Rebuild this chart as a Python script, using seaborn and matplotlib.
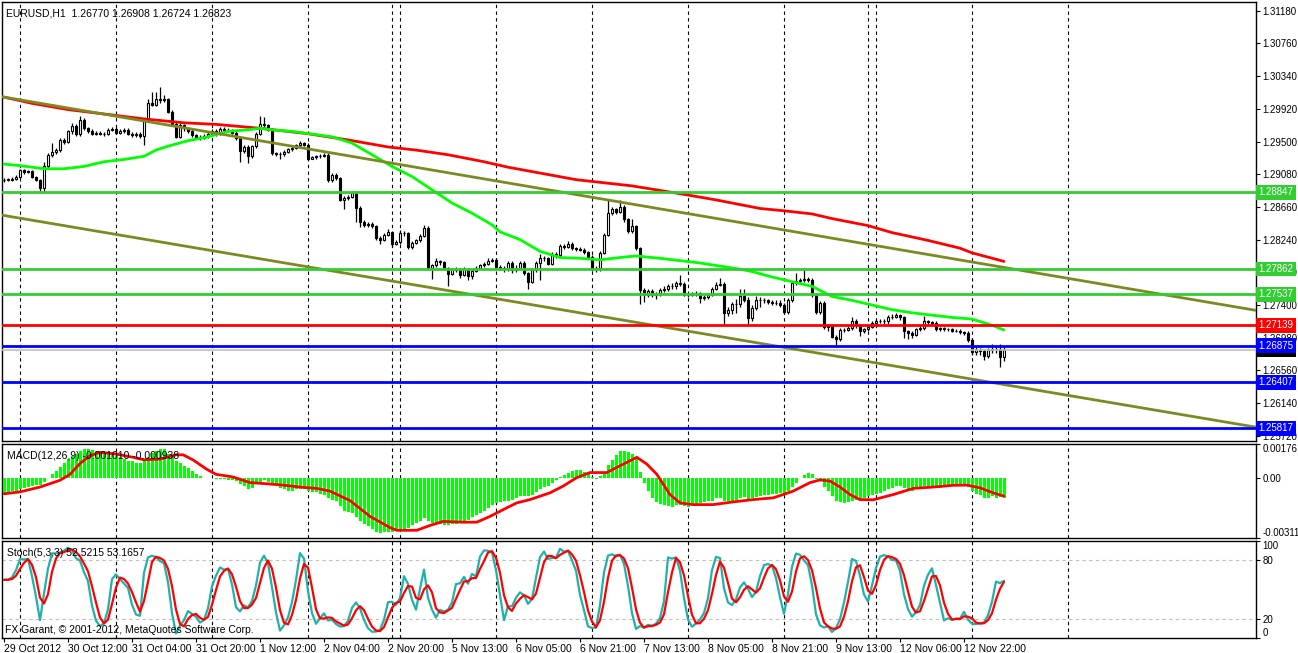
import numpy as np
import pandas as pd
import matplotlib
matplotlib.use("Agg")
import matplotlib.pyplot as plt
import matplotlib.transforms as mtrans
import seaborn as sns

# EURUSD H1, one value per bar (bar 0 = 29 Oct 20:00)
close_px = [
    1.2901, 1.2901, 1.2902, 1.2905, 1.2913, 1.2911, 1.2912, 1.2905, 1.2901, 1.2890,
    1.2918, 1.2933, 1.2937, 1.2939, 1.2952, 1.2950, 1.2963, 1.2970, 1.2960, 1.2978,
    1.2967, 1.2964, 1.2960, 1.2961, 1.2960, 1.2960, 1.2965, 1.2966, 1.2961, 1.2964,
    1.2965, 1.2960, 1.2958, 1.2960, 1.2957, 1.2978, 1.2999, 1.2997, 1.3004, 1.3003,
    1.3004, 1.2988, 1.2973, 1.2956, 1.2971, 1.2967, 1.2964, 1.2958, 1.2956, 1.2955,
    1.2957, 1.2960, 1.2963, 1.2960, 1.2966, 1.2965, 1.2964, 1.2961, 1.2954, 1.2938,
    1.2943, 1.2931, 1.2944, 1.2960, 1.2973, 1.2971, 1.2965, 1.2935, 1.2934, 1.2934,
    1.2937, 1.2940, 1.2942, 1.2945, 1.2948, 1.2946, 1.2928, 1.2930, 1.2931, 1.2932,
    1.2933, 1.2900, 1.2907, 1.2903, 1.2875, 1.2877, 1.2879, 1.2884, 1.2865, 1.2847,
    1.2843, 1.2844, 1.2841, 1.2826, 1.2824, 1.2830, 1.2834, 1.2819, 1.2821, 1.2833,
    1.2832, 1.2814, 1.2820, 1.2823, 1.2829, 1.2839, 1.2788, 1.2791, 1.2796, 1.2795,
    1.2787, 1.2780, 1.2786, 1.2785, 1.2779, 1.2786, 1.2777, 1.2784, 1.2788, 1.2791,
    1.2793, 1.2797, 1.2798, 1.2789, 1.2788, 1.2786, 1.2794, 1.2785, 1.2788, 1.2794,
    1.2781, 1.2770, 1.2785, 1.2794, 1.2801, 1.2800, 1.2793, 1.2806, 1.2804, 1.2816,
    1.2815, 1.2819, 1.2813, 1.2812, 1.2811, 1.2808, 1.2802, 1.2787, 1.2787, 1.2807,
    1.2830, 1.2858, 1.2863, 1.2860, 1.2866, 1.2850, 1.2835, 1.2841, 1.2813, 1.2759,
    1.2753, 1.2758, 1.2753, 1.2754, 1.2759, 1.2761, 1.2764, 1.2764, 1.2768, 1.2767,
    1.2753, 1.2753, 1.2755, 1.2755, 1.2749, 1.2750, 1.2753, 1.2761, 1.2766, 1.2767,
    1.2730, 1.2733, 1.2741, 1.2741, 1.2752, 1.2747, 1.2723, 1.2736, 1.2747, 1.2746,
    1.2746, 1.2744, 1.2743, 1.2743, 1.2740, 1.2731, 1.2746, 1.2768, 1.2771, 1.2772,
    1.2773, 1.2772, 1.2753, 1.2731, 1.2742, 1.2712, 1.2713, 1.2699, 1.2696, 1.2708,
    1.2708, 1.2710, 1.2719, 1.2714, 1.2706, 1.2709, 1.2712, 1.2717, 1.2720, 1.2719,
    1.2719, 1.2725, 1.2725, 1.2727, 1.2724, 1.2706, 1.2704, 1.2702, 1.2709, 1.2710,
    1.2719, 1.2718, 1.2717, 1.2709, 1.2710, 1.2709, 1.2709, 1.2707, 1.2707, 1.2705,
    1.2704, 1.2695, 1.2680, 1.2682, 1.2681, 1.2675, 1.2682, 1.2684, 1.2683, 1.2673, 1.2682,
]
high_px = [
    1.2903, 1.2903, 1.2904, 1.2907, 1.2915, 1.2915, 1.2914, 1.2913, 1.2906, 1.2902,
    1.2924, 1.2935, 1.2948, 1.2942, 1.2955, 1.2955, 1.2965, 1.2974, 1.2972, 1.2983,
    1.2980, 1.2969, 1.2966, 1.2963, 1.2963, 1.2962, 1.2967, 1.2968, 1.2968, 1.2966,
    1.2967, 1.2967, 1.2962, 1.2962, 1.2962, 1.2980, 1.3005, 1.3014, 1.3014, 1.3020,
    1.3010, 1.3006, 1.2990, 1.2975, 1.2974, 1.2973, 1.2969, 1.2966, 1.2960, 1.2958,
    1.2959, 1.2962, 1.2966, 1.2966, 1.2969, 1.2968, 1.2967, 1.2966, 1.2963, 1.2956,
    1.2946, 1.2945, 1.2946, 1.2962, 1.2983, 1.2982, 1.2973, 1.2967, 1.2937, 1.2937,
    1.2939, 1.2942, 1.2944, 1.2947, 1.2951, 1.2950, 1.2948, 1.2932, 1.2933, 1.2934,
    1.2935, 1.2935, 1.2909, 1.2909, 1.2905, 1.2880, 1.2881, 1.2886, 1.2886, 1.2867,
    1.2849, 1.2846, 1.2846, 1.2843, 1.2828, 1.2832, 1.2837, 1.2834, 1.2823, 1.2836,
    1.2835, 1.2834, 1.2822, 1.2825, 1.2831, 1.2843, 1.2841, 1.2793, 1.2800, 1.2798,
    1.2797, 1.2789, 1.2788, 1.2789, 1.2787, 1.2789, 1.2788, 1.2786, 1.2790, 1.2793,
    1.2795, 1.2800, 1.2801, 1.2800, 1.2791, 1.2790, 1.2797, 1.2796, 1.2791, 1.2797,
    1.2797, 1.2783, 1.2787, 1.2797, 1.2806, 1.2803, 1.2802, 1.2808, 1.2808, 1.2818,
    1.2819, 1.2822, 1.2821, 1.2815, 1.2814, 1.2813, 1.2810, 1.2804, 1.2790, 1.2809,
    1.2833, 1.2875, 1.2866, 1.2864, 1.2875, 1.2868, 1.2852, 1.2851, 1.2843, 1.2815,
    1.2762, 1.2761, 1.2761, 1.2757, 1.2762, 1.2764, 1.2767, 1.2768, 1.2771, 1.2779,
    1.2769, 1.2756, 1.2757, 1.2758, 1.2757, 1.2753, 1.2756, 1.2763, 1.2769, 1.2775,
    1.2769, 1.2738, 1.2744, 1.2748, 1.2760, 1.2760, 1.2750, 1.2740, 1.2752, 1.2750,
    1.2749, 1.2748, 1.2747, 1.2746, 1.2746, 1.2742, 1.2749, 1.2770, 1.2781, 1.2775,
    1.2787, 1.2776, 1.2775, 1.2755, 1.2745, 1.2745, 1.2716, 1.2715, 1.2702, 1.2711,
    1.2711, 1.2713, 1.2724, 1.2722, 1.2716, 1.2711, 1.2714, 1.2720, 1.2722, 1.2722,
    1.2722, 1.2727, 1.2729, 1.2730, 1.2729, 1.2726, 1.2708, 1.2706, 1.2711, 1.2713,
    1.2726, 1.2721, 1.2720, 1.2719, 1.2712, 1.2712, 1.2711, 1.2711, 1.2709, 1.2709,
    1.2707, 1.2706, 1.2697, 1.2686, 1.2685, 1.2683, 1.2685, 1.2690, 1.2688, 1.2690, 1.2686,
]
low_px = [
    1.2898, 1.2899, 1.2899, 1.2900, 1.2903, 1.2908, 1.2909, 1.2903, 1.2899, 1.2886,
    1.2886, 1.2915, 1.2930, 1.2934, 1.2936, 1.2947, 1.2948, 1.2960, 1.2957, 1.2957,
    1.2965, 1.2961, 1.2958, 1.2958, 1.2958, 1.2957, 1.2958, 1.2963, 1.2959, 1.2959,
    1.2961, 1.2958, 1.2956, 1.2956, 1.2955, 1.2945, 1.2976, 1.2995, 1.2995, 1.3000,
    1.3001, 1.2986, 1.2970, 1.2954, 1.2954, 1.2964, 1.2961, 1.2956, 1.2953, 1.2952,
    1.2953, 1.2955, 1.2958, 1.2957, 1.2958, 1.2962, 1.2962, 1.2959, 1.2952, 1.2924,
    1.2935, 1.2923, 1.2929, 1.2942, 1.2958, 1.2968, 1.2963, 1.2933, 1.2931, 1.2927,
    1.2932, 1.2935, 1.2938, 1.2940, 1.2943, 1.2944, 1.2926, 1.2927, 1.2928, 1.2929,
    1.2930, 1.2898, 1.2898, 1.2901, 1.2873, 1.2863, 1.2875, 1.2877, 1.2847, 1.2840,
    1.2840, 1.2840, 1.2839, 1.2823, 1.2819, 1.2822, 1.2828, 1.2814, 1.2817, 1.2819,
    1.2829, 1.2812, 1.2812, 1.2818, 1.2821, 1.2827, 1.2786, 1.2774, 1.2789, 1.2792,
    1.2785, 1.2764, 1.2778, 1.2782, 1.2775, 1.2777, 1.2772, 1.2774, 1.2782, 1.2786,
    1.2789, 1.2791, 1.2795, 1.2787, 1.2785, 1.2783, 1.2784, 1.2781, 1.2782, 1.2786,
    1.2779, 1.2760, 1.2768, 1.2783, 1.2772, 1.2797, 1.2791, 1.2791, 1.2801, 1.2802,
    1.2812, 1.2813, 1.2811, 1.2810, 1.2809, 1.2806, 1.2800, 1.2784, 1.2783, 1.2784,
    1.2805, 1.2828, 1.2855, 1.2857, 1.2858, 1.2847, 1.2832, 1.2832, 1.2811, 1.2741,
    1.2744, 1.2750, 1.2750, 1.2748, 1.2751, 1.2757, 1.2758, 1.2761, 1.2761, 1.2764,
    1.2751, 1.2750, 1.2751, 1.2752, 1.2743, 1.2747, 1.2748, 1.2751, 1.2759, 1.2764,
    1.2714, 1.2726, 1.2729, 1.2730, 1.2738, 1.2744, 1.2713, 1.2720, 1.2733, 1.2738,
    1.2743, 1.2741, 1.2740, 1.2740, 1.2737, 1.2728, 1.2729, 1.2744, 1.2766, 1.2768,
    1.2769, 1.2769, 1.2750, 1.2728, 1.2729, 1.2709, 1.2706, 1.2697, 1.2686, 1.2694,
    1.2705, 1.2706, 1.2708, 1.2711, 1.2700, 1.2704, 1.2707, 1.2710, 1.2715, 1.2717,
    1.2716, 1.2716, 1.2722, 1.2723, 1.2721, 1.2698, 1.2696, 1.2697, 1.2700, 1.2707,
    1.2708, 1.2715, 1.2714, 1.2706, 1.2707, 1.2707, 1.2707, 1.2705, 1.2705, 1.2703,
    1.2701, 1.2693, 1.2676, 1.2676, 1.2676, 1.2670, 1.2672, 1.2678, 1.2678, 1.2661, 1.2668,
]
first_open = 1.2900

# moving averages
ma_fast_bars = [0, 4, 10, 15, 20, 25, 30, 35, 38, 41, 46, 51, 56, 61, 64, 67, 72, 82, 87, 92,
                97, 102, 107, 112, 117, 122, 124, 129, 134, 139, 144, 149, 154, 158, 164, 169,
                174, 179, 184, 187, 192, 197, 202, 207, 212, 217, 222, 227, 232, 237, 242, 247, 250]
ma_fast_px = [1.2921, 1.2919, 1.2915, 1.2915, 1.2918, 1.2924, 1.2927, 1.2931, 1.2939, 1.2944,
              1.2951, 1.2956, 1.2963, 1.2965, 1.2967, 1.2965, 1.2963, 1.2956, 1.2948, 1.2933,
              1.2918, 1.2905, 1.2888, 1.2871, 1.2858, 1.2843, 1.2834, 1.2824, 1.2809, 1.2801,
              1.2800, 1.2798, 1.2801, 1.2803, 1.2800, 1.2797, 1.2794, 1.2790, 1.2786, 1.2783,
              1.2776, 1.2770, 1.2764, 1.2751, 1.2746, 1.2740, 1.2734, 1.2730, 1.2727, 1.2724,
              1.2722, 1.2714, 1.2708]
ma_slow_bars = [0, 7, 16, 24, 35, 45, 53, 64, 76, 86, 96, 103, 111, 120, 126, 143, 157, 169,
                178, 189, 195, 202, 207, 216, 222, 231, 239, 242, 250]
ma_slow_px = [1.3007, 1.2999, 1.2991, 1.2986, 1.2979, 1.2974, 1.2972, 1.2967, 1.2960, 1.2952,
              1.2943, 1.2939, 1.2933, 1.2924, 1.2917, 1.2901, 1.2893, 1.2883, 1.2875, 1.2864,
              1.2861, 1.2857, 1.2851, 1.2842, 1.2833, 1.2823, 1.2813, 1.2807, 1.2796]

# MACD(12,26,9): main as histogram, signal as line
macd_main = [
    -0.00077, -0.00072, -0.00068, -0.00065, -0.00059, -0.00051, -0.00047, -0.00042, -0.00037, -0.00037,
    -0.00019, -0.00002, 0.00019, 0.00037, 0.00058, 0.00075, 0.00098, 0.00115, 0.00124, 0.00141,
    0.00150, 0.00150, 0.00145, 0.00141, 0.00133, 0.00127, 0.00124, 0.00120, 0.00115, 0.00107,
    0.00098, 0.00089, 0.00086, 0.00080, 0.00075, 0.00086, 0.00107, 0.00127, 0.00141, 0.00150,
    0.00150, 0.00124, 0.00107, 0.00086, 0.00075, 0.00063, 0.00051, 0.00037, 0.00023, 0.00010,
    0.00002, -0.00002, 0.00002, -0.00005, -0.00003, -0.00005, -0.00009, -0.00012, -0.00016, -0.00030,
    -0.00042, -0.00059, -0.00051, -0.00033, -0.00019, -0.00012, -0.00019, -0.00037, -0.00042, -0.00051,
    -0.00059, -0.00065, -0.00065, -0.00059, -0.00059, -0.00059, -0.00068, -0.00072, -0.00072, -0.00082,
    -0.00086, -0.00103, -0.00112, -0.00120, -0.00147, -0.00169, -0.00176, -0.00182, -0.00204, -0.00225,
    -0.00239, -0.00251, -0.00264, -0.00278, -0.00286, -0.00281, -0.00278, -0.00281, -0.00274, -0.00269,
    -0.00264, -0.00257, -0.00246, -0.00234, -0.00222, -0.00208, -0.00225, -0.00234, -0.00239, -0.00239,
    -0.00243, -0.00243, -0.00239, -0.00239, -0.00234, -0.00225, -0.00217, -0.00204, -0.00194, -0.00182,
    -0.00169, -0.00155, -0.00141, -0.00129, -0.00124, -0.00120, -0.00117, -0.00112, -0.00106, -0.00094,
    -0.00094, -0.00094, -0.00086, -0.00072, -0.00059, -0.00047, -0.00042, -0.00024, -0.00012, 0.00005,
    0.00016, 0.00026, 0.00037, 0.00040, 0.00040, 0.00033, 0.00019, 0.00005, -0.00003, 0.00010,
    0.00028, 0.00068, 0.00093, 0.00120, 0.00141, 0.00141, 0.00133, 0.00124, 0.00098, 0.00031,
    -0.00024, -0.00065, -0.00106, -0.00124, -0.00134, -0.00141, -0.00147, -0.00150, -0.00138, -0.00141,
    -0.00147, -0.00152, -0.00141, -0.00134, -0.00129, -0.00126, -0.00120, -0.00117, -0.00106, -0.00103,
    -0.00117, -0.00117, -0.00117, -0.00112, -0.00103, -0.00100, -0.00112, -0.00106, -0.00100, -0.00094,
    -0.00089, -0.00086, -0.00082, -0.00082, -0.00077, -0.00077, -0.00065, -0.00047, -0.00024, 0.00002,
    0.00016, 0.00026, 0.00019, -0.00003, -0.00007, -0.00047, -0.00068, -0.00094, -0.00117, -0.00126,
    -0.00129, -0.00124, -0.00117, -0.00112, -0.00112, -0.00103, -0.00094, -0.00089, -0.00082, -0.00077,
    -0.00068, -0.00059, -0.00051, -0.00042, -0.00042, -0.00051, -0.00059, -0.00065, -0.00059, -0.00051,
    -0.00042, -0.00042, -0.00047, -0.00047, -0.00051, -0.00047, -0.00044, -0.00040, -0.00037, -0.00033,
    -0.00037, -0.00047, -0.00068, -0.00082, -0.00089, -0.00106, -0.00103, -0.00094, -0.00103, -0.00100, -0.00103,
]
macd_sig_bars = [0, 4, 9, 14, 16.5, 19, 21.5, 24, 28, 32.3, 35, 39, 43, 44.8, 47.3, 50.7, 53,
                 57.3, 61.5, 65.7, 69.8, 74, 78.2, 81.5, 86.5, 91.5, 96.5, 98.2, 103.2, 106.5,
                 109.8, 114.8, 118.2, 121.5, 124.8, 128.2, 131.5, 136.5, 139.8, 143.2, 146.5,
                 150.7, 154, 158.2, 160.7, 163.2, 166.5, 169, 172.3, 177.3, 182.3, 187.3, 192.3,
                 197.3, 201.5, 204, 206.5, 209, 211.5, 214, 217.3, 222.3, 227.3, 232.3, 237.3,
                 240.7, 244, 247.3, 250]
macd_sig = [-0.00082, -0.00072, -0.00047, -0.00012, 0.00019, 0.00075, 0.00115, 0.00133, 0.00124,
            0.00107, 0.00094, 0.00098, 0.00120, 0.00120, 0.00093, 0.00045, 0.00019, 0.00005,
            -0.00024, -0.00030, -0.00037, -0.00047, -0.00054, -0.00068, -0.00117, -0.00199,
            -0.00257, -0.00271, -0.00271, -0.00246, -0.00225, -0.00229, -0.00229, -0.00199,
            -0.00164, -0.00129, -0.00112, -0.00077, -0.00042, 0.00002, 0.00028, 0.00028,
            0.00063, 0.00107, 0.00072, 0.00019, -0.00086, -0.00129, -0.00138, -0.00138,
            -0.00124, -0.00112, -0.00103, -0.00068, -0.00024, -0.00010, -0.00016, -0.00047,
            -0.00086, -0.00112, -0.00113, -0.00086, -0.00054, -0.00047, -0.00038, -0.00037,
            -0.00051, -0.00077, -0.00094]

# objects on the chart
hline_green = [1.28847, 1.27862, 1.27537]
hline_red = [1.27139]
hline_blue = [1.26875, 1.26407, 1.25817]
bid_px = 1.26823
trend_bars = [0, 312]
trend_upper = [1.3007, 1.2734]
trend_lower = [1.2855, 1.2584]

sep_bars = [4, 28, 52, 76, 97, 99, 123, 147, 171, 195, 216, 218, 242, 266]
time_ticks = [0, 16, 32, 48, 64, 80, 96, 112, 128, 144, 160, 176, 192, 208, 224, 240]
time_labels = ['29 Oct 2012', '30 Oct 12:00', '31 Oct 04:00', '31 Oct 20:00', '1 Nov 12:00',
               '2 Nov 04:00', '2 Nov 20:00', '5 Nov 13:00', '6 Nov 05:00', '6 Nov 21:00',
               '7 Nov 13:00', '8 Nov 05:00', '8 Nov 21:00', '9 Nov 13:00', '12 Nov 06:00',
               '12 Nov 22:00']
price_ticks = [1.3118, 1.3076, 1.3034, 1.2992, 1.2950, 1.2908, 1.2866, 1.2824, 1.2782,
               1.2740, 1.2698, 1.2656, 1.2614, 1.2572]

sns.set_theme(style="white")
plt.rcParams['font.family'] = ['Liberation Sans', 'DejaVu Sans']
FS = 7.5
FS_AX = 7.0

df = pd.DataFrame({'close': close_px, 'high': high_px, 'low': low_px})
df['bar'] = np.arange(len(df))
df['open'] = df['close'].shift(1).fillna(first_open)

# Stochastic(5,3,3)
ll = df['low'].rolling(5, min_periods=1).min()
hh = df['high'].rolling(5, min_periods=1).max()
num = (df['close'] - ll).rolling(3, min_periods=1).sum()
den = (hh - ll).rolling(3, min_periods=1).sum()
df['stoch_k'] = 100 * num / den
df['stoch_d'] = df['stoch_k'].rolling(3, min_periods=1).mean()

W, H = 1298, 653
fig = plt.figure(figsize=(W / 100, H / 100), dpi=100)


def px_axes(x0, y0, x1, y1):
    return fig.add_axes([x0 / W, 1 - y1 / H, (x1 - x0) / W, (y1 - y0) / H])


ax1 = px_axes(2, 1.5, 1256, 440.5)
ax2 = px_axes(2, 444, 1256, 538)
ax3 = px_axes(2, 541, 1256, 638)

for ax in (ax1, ax2, ax3):
    ax.set_facecolor('white')
    for s in ax.spines.values():
        s.set_color('black')
        s.set_linewidth(1)
    ax.set_xlim(-0.5, 313)
    ax.yaxis.tick_right()
    ax.tick_params(axis='y', right=True, left=False, length=3, width=0.8, pad=1.5,
                   labelsize=FS_AX, colors='black', direction='out')
    ax.tick_params(axis='x', bottom=False, labelbottom=False)
    ax.grid(False)
    for b in sep_bars:
        ax.axvline(b, color='black', lw=0.8, ls=(0, (3, 3)), zorder=1)

# ---- price panel
ax1.set_ylim(1.25660, 1.31298)
ax1.set_yticks(price_ticks)
ax1.set_yticklabels([f"{p:.5f}" for p in price_ticks])

up = df['close'] >= df['open']
body_lo = np.minimum(df['open'], df['close'])
body_h = np.maximum((df['close'] - df['open']).abs(), 0.00002)
ax1.vlines(df['bar'], df['low'], df['high'], color='black', lw=0.9, zorder=2)
ax1.bar(df['bar'], body_h, bottom=body_lo, width=0.62,
        color=np.where(up, 'white', 'black'), edgecolor='black', linewidth=0.8, zorder=3)

sns.lineplot(x=ma_slow_bars, y=ma_slow_px, ax=ax1, color='#ff0000', lw=2,
             estimator=None, sort=False, legend=False, zorder=5)
sns.lineplot(x=ma_fast_bars, y=ma_fast_px, ax=ax1, color='#00ff00', lw=2,
             estimator=None, sort=False, legend=False, zorder=5)

olive = '#7d8a23'
ax1.axline((trend_bars[0], trend_upper[0]), (trend_bars[1], trend_upper[1]),
           color=olive, lw=2, zorder=6)
ax1.axline((trend_bars[0], trend_lower[0]), (trend_bars[1], trend_lower[1]),
           color=olive, lw=2, zorder=6)

ax1.axhline(bid_px, color='#c0c0c0', lw=1.2, zorder=4)
for p in hline_green:
    ax1.axhline(p, color='#32cd32', lw=2, zorder=7)
for p in hline_red:
    ax1.axhline(p, color='#ff0000', lw=2, zorder=7)
for p in hline_blue:
    ax1.axhline(p, color='#0000ff', lw=2, zorder=7)

tag_tr = mtrans.blended_transform_factory(ax1.transAxes, ax1.transData)


def price_tag(p, fc):
    ax1.text(1.0022, p, f"{p:.5f}", transform=tag_tr, fontsize=FS_AX, color='white',
             ha='left', va='center', clip_on=False, zorder=20,
             bbox=dict(boxstyle='square,pad=0.25', fc=fc, ec='none'))


price_tag(bid_px, 'black')
for p in hline_green:
    price_tag(p, '#32cd32')
for p in hline_red:
    price_tag(p, '#ff0000')
for p in hline_blue:
    price_tag(p, '#0000ff')

ax1.text(0.003, 0.985, 'EURUSD,H1  1.26770 1.26908 1.26724 1.26823', transform=ax1.transAxes,
         fontsize=FS, ha='left', va='top', color='black', zorder=20)

# ---- MACD panel
ax2.set_ylim(-0.00311, 0.00176)
ax2.bar(df['bar'], macd_main, width=0.75, color='#00ff00', linewidth=0, zorder=3)
sns.lineplot(x=macd_sig_bars, y=macd_sig, ax=ax2, color='#ff0000', lw=2,
             estimator=None, sort=False, legend=False, zorder=5)
ax2.set_yticks([0.00176, 0.0, -0.00311])
ax2.set_yticklabels(['0.00176', '0.00', '-0.00311'])
lbls = ax2.get_yticklabels()
lbls[0].set_va('top')
lbls[2].set_va('bottom')
ax2.text(0.004, 0.93, 'MACD(12,26,9) -0.001010 -0.000938', transform=ax2.transAxes,
         fontsize=FS, ha='left', va='top', color='black', zorder=20)

# ---- Stochastic panel
ax3.set_ylim(0, 100)
for lv in (20, 80):
    ax3.axhline(lv, color='#c0c0c0', lw=0.8, ls=(0, (3, 3)), zorder=1)
sns.lineplot(data=df, x='bar', y='stoch_k', ax=ax3, color='#20b2aa', lw=1.6,
             estimator=None, legend=False, zorder=4)
sns.lineplot(data=df, x='bar', y='stoch_d', ax=ax3, color='#ff0000', lw=1.6,
             estimator=None, legend=False, zorder=5)
ax3.set_xlim(-0.5, 313)
ax3.set_yticks([100, 80, 20, 0])
ax3.set_yticklabels(['100', '80', '20', '0'])
lbls = ax3.get_yticklabels()
lbls[0].set_va('top')
lbls[3].set_va('bottom')
ax3.text(0.004, 0.93, 'Stoch(5,3,3) 52.5215 53.1657', transform=ax3.transAxes,
         fontsize=FS, ha='left', va='top', color='black', zorder=20)
ax3.text(0.002, 0.03, 'FX Garant, \u00a9 2001-2012, MetaQuotes Software Corp.',
         transform=ax3.transAxes, fontsize=FS, ha='left', va='bottom', color='black', zorder=20)

ax3.set_xticks(time_ticks)
ax3.set_xticklabels(time_labels)
ax3.tick_params(axis='x', bottom=True, labelbottom=True, length=3, width=0.8, pad=1.5,
                labelsize=FS, colors='black', direction='out')
for t in ax3.get_xticklabels():
    t.set_ha('left')

for ax in (ax1, ax2, ax3):
    ax.set_xlabel('')
    ax.set_ylabel('')

fig.savefig('out.png', dpi=100, facecolor='white')
